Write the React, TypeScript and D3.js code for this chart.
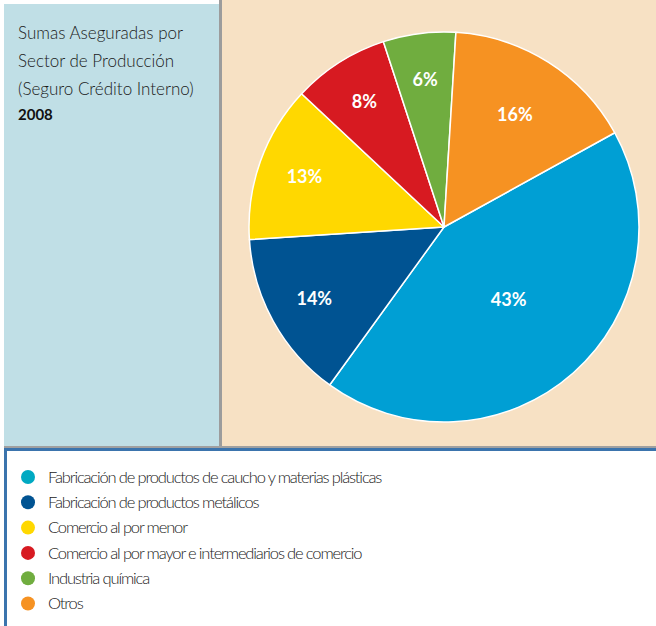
import React, { useRef, useEffect } from 'react';
import * as d3 from 'd3';

const categories = [
  'Fabricación de productos de caucho y materias plásticas',
  'Fabricación de productos metálicos',
  'Comercio al por menor',
  'Comercio al por mayor e intermediarios de comercio',
  'Industria química',
  'Otros'
];
const shares = [43, 14, 13, 8, 6, 16];
const sliceColors = ['#009fd4', '#005392', '#ffd800', '#d71a21', '#70ad3f', '#f69222'];
const legendColors = ['#00a9c2', '#005392', '#ffd800', '#d71a21', '#70ad3f', '#f69222'];
const titleLines = ['Sumas Aseguradas por', 'Sector de Producción', '(Seguro Crédito Interno)'];
const yearLabel = '2008';

const W = 656;
const H = 626;

const App = () => {
  const svgRef = useRef<SVGSVGElement | null>(null);

  useEffect(() => {
    const svg = d3.select(svgRef.current);
    svg.selectAll('*').remove();

    const thin = 'Lato, "Noto Sans", sans-serif';

    // background panels
    svg.append('rect').attr('x', 222).attr('y', 0).attr('width', W - 222).attr('height', 447).attr('fill', '#f7e1c4');
    svg.append('rect').attr('x', 4).attr('y', 4).attr('width', 215).attr('height', 443).attr('fill', '#c0dfe6');
    svg.append('rect').attr('x', 219).attr('y', 0).attr('width', 3).attr('height', 447).attr('fill', '#9c9c9c');
    svg.append('rect').attr('x', 4).attr('y', 446).attr('width', W - 4).attr('height', 2).attr('fill', '#a0a0a0');
    svg.append('rect').attr('x', 4).attr('y', 448).attr('width', W - 4).attr('height', 3).attr('fill', '#3b74ad');
    svg.append('rect').attr('x', 4).attr('y', 448).attr('width', 3).attr('height', H - 448).attr('fill', '#3b74ad');

    // title
    const title = svg.append('g').attr('transform', 'translate(18,0)');
    titleLines.forEach((t, i) => {
      title
        .append('text')
        .attr('y', 39 + i * 28)
        .attr('font-family', thin)
        .attr('font-weight', 300)
        .attr('font-size', 17)
        .attr('fill', '#1a1a1a')
        .text(t);
    });
    title
      .append('text')
      .attr('y', 120)
      .attr('font-family', thin)
      .attr('font-weight', 700)
      .attr('font-size', 15)
      .attr('fill', '#111')
      .text(yearLabel);

    // pie
    const cx = 444;
    const cy = 227;
    const r = 195;
    const start = (61.1 * Math.PI) / 180;

    const pie = d3
      .pie<number>()
      .sort(null)
      .value(d => d)
      .startAngle(start)
      .endAngle(start + 2 * Math.PI);
    const arcs = pie(shares);

    const arc = d3.arc<d3.PieArcDatum<number>>().innerRadius(0).outerRadius(r);
    const labelRadius = (v: number) => (v > 30 ? 0.5 : v > 15 ? 0.68 : 0.76) * r;

    const g = svg.append('g').attr('transform', `translate(${cx},${cy})`);
    g.selectAll('path')
      .data(arcs)
      .enter()
      .append('path')
      .attr('d', arc)
      .attr('fill', (d, i) => sliceColors[i])
      .attr('stroke', '#fff')
      .attr('stroke-width', 1.5)
      .attr('stroke-linejoin', 'round');

    g.selectAll('text.pct')
      .data(arcs)
      .enter()
      .append('text')
      .attr('class', 'pct')
      .attr('transform', d => {
        const lr = labelRadius(d.value);
        const c = d3.arc<d3.PieArcDatum<number>>().innerRadius(lr).outerRadius(lr).centroid(d);
        return `translate(${c})`;
      })
      .attr('text-anchor', 'middle')
      .attr('dy', '0.35em')
      .attr('font-family', thin)
      .attr('font-weight', 700)
      .attr('font-size', 18)
      .attr('fill', '#fff')
      .text(d => `${d.value}%`);

    // legend
    const legend = svg.append('g').attr('transform', 'translate(28,477)');
    const item = legend
      .selectAll('g')
      .data(categories)
      .enter()
      .append('g')
      .attr('transform', (d, i) => `translate(0,${i * 25.3})`);
    item.append('circle').attr('r', 7).attr('fill', (d, i) => legendColors[i]);
    item
      .append('text')
      .attr('x', 20)
      .attr('dy', '0.35em')
      .attr('font-family', thin)
      .attr('font-weight', 300)
      .attr('font-size', 16.5)
      .attr('letter-spacing', -1.15)
      .attr('fill', '#1a1a1a')
      .text(d => d);
  }, []);

  return (
    <div style={{ position: 'absolute', left: 0, top: 0, width: W, height: H, background: '#fff' }}>
      <svg ref={svgRef} width={W} height={H} style={{ display: 'block' }}></svg>
    </div>
  );
};

export default App;
